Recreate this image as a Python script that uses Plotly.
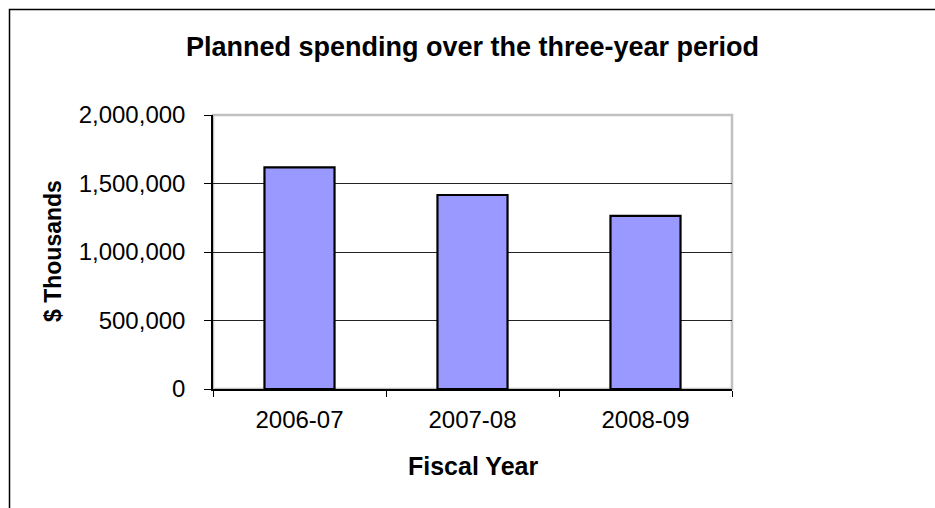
import plotly.graph_objects as go

years = ["2006-07", "2007-08", "2008-09"]
spending = [1618000, 1416000, 1263000]
y_ticks = [0, 500000, 1000000, 1500000, 2000000]
y_tick_labels = ["0", "500,000", "1,000,000", "1,500,000", "2,000,000"]

FONT = "Liberation Sans, Arial, sans-serif"

fig = go.Figure()
fig.add_trace(go.Bar(
    x=years, y=spending,
    marker=dict(color="#9999FF", line=dict(color="#000000", width=2.2)),
    width=0.405,
))

W, H = 935, 508
L, R, T, B = 213, 203, 115, 119

fig.update_layout(
    width=W, height=H,
    margin=dict(l=L, r=R, t=T, b=B),
    paper_bgcolor="white", plot_bgcolor="white",
    showlegend=False,
    font=dict(family=FONT, color="#000000", size=24),
    title=dict(text="<b>Planned spending over the three-year period</b>",
               x=0.5, xref="paper", xanchor="center",
               y=1 - 47 / H, yref="container", yanchor="middle",
               font=dict(size=27, family=FONT)),
    xaxis=dict(
        type="category", range=[-0.5, 2.5],
        showgrid=False, showline=True, linecolor="#000000", linewidth=1.5,
        ticks="outside", tickson="boundaries", ticklen=6, tickcolor="#000000",
        tickfont=dict(size=24, family=FONT), ticklabelstandoff=8,
    ),
    yaxis=dict(
        range=[0, 2000000], tickvals=y_ticks, ticktext=y_tick_labels,
        showgrid=True, gridcolor="#222222", gridwidth=1.2,
        showline=True, linecolor="#000000", linewidth=1.5,
        ticks="outside", ticklen=7, tickcolor="#000000",
        tickfont=dict(size=24, family=FONT), ticklabelstandoff=14,
        zeroline=False,
    ),
    annotations=[
        dict(text="<b>Fiscal Year</b>", x=0.5, xref="paper", y=-(466 - (H - B)) / (H - T - B),
             yref="paper", showarrow=False, xanchor="center", yanchor="middle",
             font=dict(size=25, family=FONT)),
        dict(text="<b>$ Thousands</b>", x=-(L - 53) / (W - L - R), xref="paper", y=0.5 - (251 - (T + (H - T - B) / 2)) / (H - T - B),
             yref="paper", showarrow=False, xanchor="center", yanchor="middle", textangle=-90,
             font=dict(size=23, family=FONT)),
    ],
    shapes=[
        # plot area frame (gray top/right)
        dict(type="rect", xref="paper", yref="paper", x0=0, x1=1, y0=0, y1=1,
             line=dict(color="#C0C0C0", width=2.5), layer="below"),
        # outer chart border
        dict(type="rect", xref="paper", yref="paper",
             x0=-(L - 9.5) / (W - L - R), x1=(W + 20 - L) / (W - L - R),
             y0=-(H + 20 - (H - B)) / (H - T - B) , y1=1 + (T - 9.5) / (H - T - B),
             line=dict(color="#000000", width=1.5), layer="below"),
    ],
)

fig.write_html("out.html")
